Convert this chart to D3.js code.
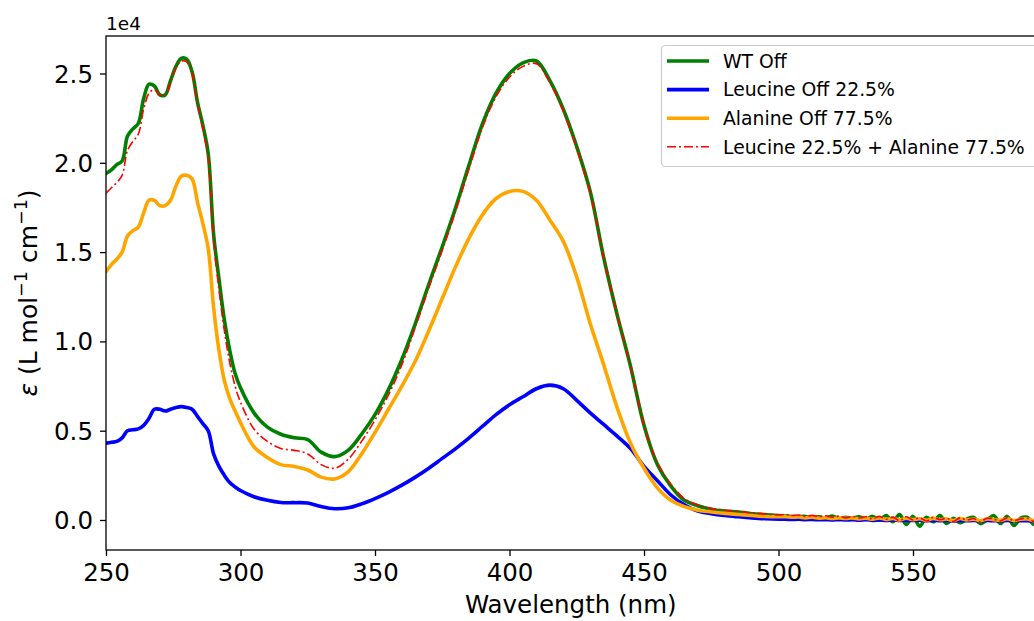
<!DOCTYPE html>
<html>
<head>
<meta charset="utf-8">
<script src="https://cdn.jsdelivr.net/npm/d3@7"></script>
<style>
  html, body { margin: 0; padding: 0; background: #fff; overflow: hidden; }
  svg { display: block; font-family: "DejaVu Sans", sans-serif; }
</style>
</head>
<body>
<svg id="chart" width="1034" height="621"></svg>
<script>
// Wavelength grid (nm)
const wavelength = [
  250,252,254,256,258,260,262,264,266,268,270,272,274,276,278,280,282,284,286,288,290,292,294,296,298,300,
  305,310,315,320,325,330,335,340,345,350,355,360,365,370,375,380,385,390,395,400,405,410,415,420,425,430,435,440,445,450,455,460,465,470,475,480,485,490,495,500,
  502.5,505,507.5,510,512.5,515,517.5,520,522.5,525,527.5,530,532.5,535,537.5,540,542.5,545,547.5,550,552.5,555,557.5,560,562.5,565,567.5,570,572.5,575,577.5,580,582.5,585,587.5,590,592.5,595,597.5,600
];

// Extinction coefficient values in units of 1e4 L mol^-1 cm^-1
const wtOff = [
  1.94,1.96,1.99,2.01,2.15,2.19,2.22,2.36,2.44,2.43,2.38,2.38,2.46,2.54,2.585,2.58,2.51,2.34,2.21,2.05,1.60,1.35,1.12,0.95,0.82,0.74,
  0.60,0.52,0.48,0.46,0.45,0.38,0.355,0.39,0.48,0.59,0.73,0.90,1.10,1.32,1.53,1.75,1.99,2.22,2.39,2.50,2.56,2.57,2.46,2.30,2.09,1.84,1.47,1.15,0.86,0.53,0.31,0.19,0.11,0.08,0.06,0.05,0.045,0.035,0.03,0.025,
  0.022,0.02,0.018,0.02,0.012,0.018,0.01,0.022,0.008,0.015,0.01,0.018,0.005,0.02,0.0,0.025,-0.01,0.03,-0.025,0.02,-0.035,0.015,-0.01,0.025,-0.02,0.01,-0.015,0.005,0.015,-0.02,0.0,0.025,-0.02,0.02,-0.03,0.01,0.015,-0.025,0.01,-0.005
];

const leucineOff = [
  0.43,0.435,0.44,0.46,0.50,0.505,0.51,0.53,0.57,0.62,0.62,0.61,0.62,0.63,0.635,0.63,0.62,0.58,0.54,0.50,0.37,0.30,0.25,0.21,0.185,0.165,
  0.13,0.11,0.098,0.097,0.095,0.075,0.063,0.068,0.09,0.12,0.155,0.195,0.24,0.29,0.345,0.40,0.46,0.525,0.59,0.645,0.69,0.735,0.755,0.735,0.67,0.60,0.535,0.47,0.40,0.30,0.22,0.14,0.085,0.05,0.035,0.025,0.018,0.012,0.007,0.004,
  0.004,0.003,0.004,0.002,0.003,0.001,0.002,0.0,0.002,0.0,0.001,-0.001,0.001,-0.002,0.0,-0.002,0.0,-0.003,-0.001,-0.003,-0.001,-0.004,-0.002,-0.004,-0.002,-0.005,-0.003,-0.004,-0.003,-0.005,-0.003,-0.004,-0.005,-0.003,-0.005,-0.004,-0.004,-0.006,-0.004,-0.005
];

const alanineOff = [
  1.39,1.43,1.46,1.50,1.59,1.62,1.64,1.72,1.79,1.79,1.76,1.76,1.79,1.87,1.925,1.93,1.91,1.78,1.66,1.52,1.19,0.95,0.78,0.68,0.61,0.545,
  0.41,0.35,0.31,0.30,0.28,0.24,0.23,0.27,0.37,0.49,0.62,0.75,0.89,1.06,1.24,1.42,1.58,1.71,1.80,1.84,1.84,1.79,1.68,1.56,1.36,1.10,0.87,0.63,0.43,0.29,0.18,0.11,0.075,0.055,0.045,0.037,0.031,0.025,0.02,0.018,
  0.018,0.015,0.017,0.012,0.015,0.01,0.013,0.008,0.012,0.009,0.011,0.006,0.01,0.004,0.012,0.003,0.009,0.0,0.01,0.002,0.007,-0.002,0.009,0.001,0.006,-0.003,0.008,0.0,0.005,-0.004,0.006,0.002,-0.002,0.007,-0.003,0.004,0.006,-0.004,0.003,0.001
];

const leuPlusAla = [
  1.83,1.86,1.89,1.93,2.07,2.12,2.16,2.30,2.39,2.41,2.38,2.38,2.45,2.53,2.57,2.565,2.50,2.33,2.19,2.02,1.56,1.29,1.06,0.88,0.75,0.66,
  0.51,0.44,0.40,0.39,0.37,0.31,0.29,0.34,0.44,0.56,0.70,0.87,1.08,1.30,1.51,1.73,1.97,2.20,2.37,2.48,2.54,2.555,2.45,2.29,2.08,1.83,1.47,1.15,0.86,0.53,0.32,0.20,0.12,0.085,0.065,0.055,0.048,0.04,0.034,0.028,
  0.03,0.025,0.028,0.02,0.026,0.018,0.024,0.015,0.022,0.012,0.02,0.01,0.018,0.006,0.02,0.004,0.016,-0.004,0.018,0.0,0.012,-0.006,0.015,0.002,0.01,-0.008,0.012,0.0,0.008,-0.01,0.01,0.004,-0.006,0.012,-0.004,0.006,0.01,-0.008,0.004,0.002
];

const seriesNames = ["WT Off", "Leucine Off 22.5%", "Alanine Off 77.5%", "Leucine 22.5% + Alanine 77.5%"];
const seriesColors = ["green", "blue", "orange", "red"];
const xTicks = [250, 300, 350, 400, 450, 500, 550];
const yTicks = [0.0, 0.5, 1.0, 1.5, 2.0, 2.5];
const xDomain = [250, 600];
const yDomain = [-0.168, 2.71];

const seriesValues = [wtOff, leucineOff, alanineOff, leuPlusAla];

const svg = d3.select("#chart");
const L = 106, R = 1047.5, T = 36, B = 550;

const x = d3.scaleLinear().domain(xDomain).range([L, R]);
const y = d3.scaleLinear().domain(yDomain).range([B, T]);

svg.append("defs").append("clipPath").attr("id", "plotclip")
  .append("rect").attr("x", L).attr("y", T).attr("width", R - L).attr("height", B - T);

const line = d3.line()
  .x(d => x(d[0])).y(d => y(d[1]))
  .curve(d3.curveCatmullRom.alpha(0.5));

const plot = svg.append("g").attr("clip-path", "url(#plotclip)");
const widths = [3.6, 3.6, 3.6, 1.6];
seriesValues.forEach((vals, i) => {
  const pts = wavelength.map((w, k) => [w, vals[k]]);
  const p = plot.append("path")
    .attr("d", line(pts))
    .attr("fill", "none")
    .attr("stroke", seriesColors[i])
    .attr("stroke-width", widths[i])
    .attr("stroke-linejoin", "round")
    .attr("stroke-linecap", i === 3 ? "butt" : "round");
  if (i === 3) p.attr("stroke-dasharray", "9,3,2,3");
});

// Axes
const fontTick = 24.5;
const xAxis = d3.axisBottom(x).tickValues(xTicks).tickSize(6).tickPadding(6).tickFormat(d3.format("d"));
const gx = svg.append("g").attr("transform", `translate(0,${B})`).call(xAxis);
gx.select(".domain").remove();
gx.selectAll("line").attr("stroke", "#000").attr("stroke-width", 1.3);
gx.selectAll("text").attr("font-size", fontTick).attr("fill", "#000")
  .attr("font-family", "DejaVu Sans").attr("dy", "0.76em");

const yAxis = d3.axisLeft(y).tickValues(yTicks).tickSize(6).tickPadding(7).tickFormat(d3.format(".1f"));
const gy = svg.append("g").attr("transform", `translate(${L},0)`).call(yAxis);
gy.select(".domain").remove();
gy.selectAll("line").attr("stroke", "#000").attr("stroke-width", 1.3);
gy.selectAll("text").attr("font-size", fontTick).attr("fill", "#000")
  .attr("font-family", "DejaVu Sans").attr("dy", "0.35em");

// Spines
svg.append("rect").attr("x", L).attr("y", T).attr("width", R - L).attr("height", B - T)
  .attr("fill", "none").attr("stroke", "#000").attr("stroke-width", 1.3);

// Offset text
svg.append("text").attr("x", L).attr("y", 30).attr("font-size", 18.5).attr("fill", "#000")
  .text("1e4");

// X label
svg.append("text").attr("x", (L + R) / 2 - 6).attr("y", 613).attr("text-anchor", "middle")
  .attr("font-size", 24.5).attr("fill", "#000").text("Wavelength (nm)");

// Y label
const yl = svg.append("text").attr("transform", `translate(37,${(T + B) / 2}) rotate(-90)`)
  .attr("text-anchor", "middle").attr("font-size", 25).attr("fill", "#000");
yl.append("tspan").attr("font-style", "italic").text("ε");
yl.append("tspan").text(" (L mol");
yl.append("tspan").attr("font-size", 17.5).attr("dy", -10).text("−1");
yl.append("tspan").attr("dy", 10).text(" cm");
yl.append("tspan").attr("font-size", 17.5).attr("dy", -10).text("−1");
yl.append("tspan").attr("dy", 10).text(")");

// Legend
const lg = svg.append("g");
lg.append("rect").attr("x", 661.5).attr("y", 45.5).attr("width", 380).attr("height", 121)
  .attr("rx", 4).attr("fill", "#fff").attr("fill-opacity", 0.8)
  .attr("stroke", "#cccccc").attr("stroke-width", 1.2);
seriesNames.forEach((name, i) => {
  const yy = 61 + i * 28.6;
  const ln = lg.append("line").attr("x1", 667).attr("x2", 709).attr("y1", yy).attr("y2", yy)
    .attr("stroke", seriesColors[i]).attr("stroke-width", widths[i]);
  if (i === 3) ln.attr("stroke-dasharray", "9,3,2,3");
  lg.append("text").attr("x", 723).attr("y", yy).attr("dy", "0.36em")
    .attr("font-size", 18.8).attr("fill", "#000").text(name);
});
</script>
</body>
</html>
